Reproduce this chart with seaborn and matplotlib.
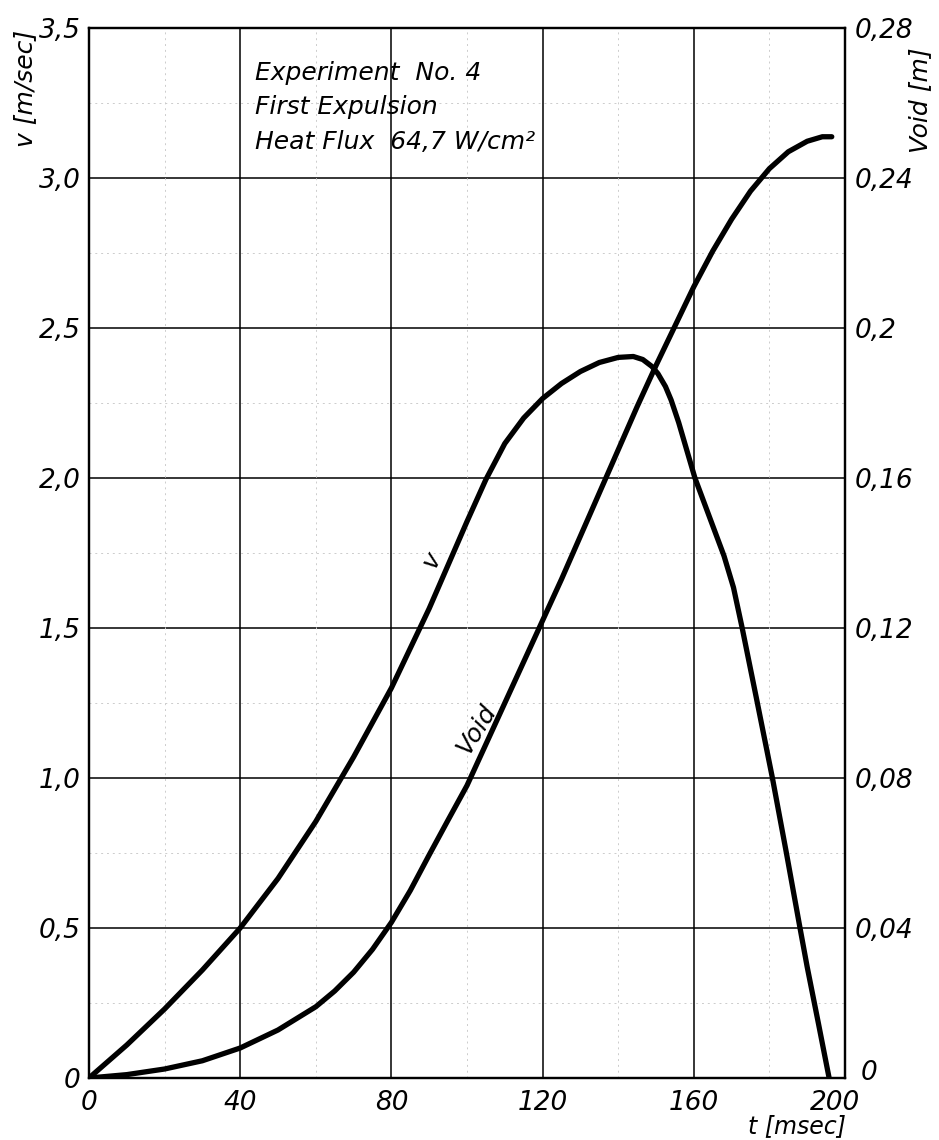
import matplotlib
matplotlib.use("Agg")
import matplotlib.pyplot as plt
import matplotlib.transforms as mtransforms
import seaborn as sns
import pandas as pd

# ---- data ----
t_v = [0, 10, 20, 30, 40, 50, 60, 70, 80, 90, 95, 100, 105, 110, 115, 120, 125, 130,
       135, 140, 144, 146.5, 148.9, 150.5, 152.5, 154, 156, 160.3, 164, 168, 170.5,
       172.8, 176.5, 180.8, 184.5, 188.1, 190, 193, 195.8]
v_vals = [0, 0.11, 0.23, 0.36, 0.5, 0.665, 0.855, 1.07, 1.30, 1.565, 1.71, 1.855, 1.995,
          2.115, 2.2, 2.265, 2.315, 2.355, 2.385, 2.402, 2.405, 2.395, 2.372, 2.348,
          2.305, 2.26, 2.185, 2.0, 1.875, 1.74, 1.635, 1.5, 1.27, 1.0, 0.75, 0.5, 0.37,
          0.18, 0]

t_void = [0, 10, 20, 30, 40, 50, 60, 65, 70, 75, 80, 85, 90, 95, 100, 105, 110, 115,
          120, 125, 130, 135, 140, 145, 150, 155, 160, 165, 170, 175, 180, 185, 190,
          194, 196.5]
void_vals = [0, 0.0009, 0.0024, 0.0046, 0.008, 0.0128, 0.019, 0.0232, 0.0282, 0.0343,
             0.0415, 0.050, 0.0595, 0.0688, 0.078, 0.089, 0.1, 0.111, 0.122, 0.133,
             0.1445, 0.156, 0.1675, 0.179, 0.19, 0.2005, 0.211, 0.2205, 0.229, 0.2365,
             0.2425, 0.247, 0.2498, 0.251, 0.251]

x_ticks = [0, 40, 80, 120, 160, 200]
x_tick_labels = ["0", "40", "80", "120", "160", "200"]
v_ticks = [0, 0.5, 1.0, 1.5, 2.0, 2.5, 3.0, 3.5]
v_tick_labels = ["0", "0,5", "1,0", "1,5", "2,0", "2,5", "3,0", "3,5"]
void_ticks = [0, 0.04, 0.08, 0.12, 0.16, 0.20, 0.24, 0.28]
void_tick_labels = ["0", "0,04", "0,08", "0,12", "0,16", "0,2", "0,24", "0,28"]

info_lines = ["Experiment  No. 4", "First Expulsion", "Heat Flux  64,7 W/cm²"]

# ---- style ----
sns.set_style("white")
plt.rcParams["font.family"] = ["DejaVu Sans"]
plt.rcParams["font.style"] = "italic"
plt.rcParams["text.color"] = "black"
plt.rcParams["xtick.color"] = "black"
plt.rcParams["ytick.color"] = "black"
plt.rcParams["axes.labelcolor"] = "black"

fig = plt.figure(figsize=(9.39, 11.4), dpi=100)
ax = fig.add_axes([89/939, 1-1078/1140, (845-89)/939, (1078-28)/1140])
ax2 = ax.twinx()

df_v = pd.DataFrame({"t": t_v, "v": v_vals})
df_void = pd.DataFrame({"t": t_void, "void": void_vals})

sns.lineplot(data=df_v, x="t", y="v", ax=ax, color="black", lw=3.8,
             sort=False, estimator=None, solid_capstyle="round",
             solid_joinstyle="round", zorder=5)
sns.lineplot(data=df_void, x="t", y="void", ax=ax2, color="black", lw=3.8,
             sort=False, estimator=None, solid_capstyle="round",
             solid_joinstyle="round", zorder=5)

ax.set_xlim(0, 200)
ax.set_ylim(0, 3.5)
ax2.set_ylim(0, 0.28)

# faint minor grid of the graph paper
for xm in [20, 60, 100, 140, 180]:
    ax.axvline(xm, color="#cccccc", lw=0.7, ls=(0, (2, 4)), zorder=1)
for ym in [0.25, 0.75, 1.25, 1.75, 2.25, 2.75, 3.25]:
    ax.axhline(ym, color="#cccccc", lw=0.7, ls=(0, (2, 4)), zorder=1)

ax.set_xticks(x_ticks)
ax.set_xticklabels(x_tick_labels)
ax.set_yticks(v_ticks)
ax.set_yticklabels(v_tick_labels)
ax2.set_yticks(void_ticks)
ax2.set_yticklabels(void_tick_labels)

ax.grid(True, color="black", lw=1.1, zorder=2)
ax2.grid(False)

fs = 19
ax.tick_params(axis="x", length=0, pad=9, labelsize=fs, colors="black")
ax.tick_params(axis="y", length=0, pad=6, labelsize=fs, colors="black")
ax2.tick_params(axis="y", length=0, pad=7, labelsize=fs, colors="black")
for lab in ax.get_xticklabels() + ax.get_yticklabels() + ax2.get_yticklabels():
    lab.set_fontstyle("italic")

# nudge the crowded corner labels apart ("200" left, right-axis "0" up/right)
lab200 = ax.get_xticklabels()[-1]
lab200.set_transform(lab200.get_transform() +
                     mtransforms.ScaledTranslation(-10/100, 0, fig.dpi_scale_trans))
lab0r = ax2.get_yticklabels()[0]
lab0r.set_transform(lab0r.get_transform() +
                    mtransforms.ScaledTranslation(6/100, 8/100, fig.dpi_scale_trans))

ax.set_xlabel("")
ax.set_ylabel("")
ax2.set_ylabel("")

for a in (ax, ax2):
    for s in a.spines.values():
        s.set_color("black")
        s.set_linewidth(1.6)
        s.set_visible(True)

# text block
ys = [3.35, 3.237, 3.12]
for line, yy in zip(info_lines, ys):
    ax.text(44, yy, line, fontsize=18, style="italic", ha="left", va="center", zorder=6)

# curve labels
ax.text(90.7, 1.727, "v", fontsize=18, style="italic", rotation=62,
        ha="center", va="center", zorder=6)
ax.text(102.4, 1.163, "Void", fontsize=18, style="italic", rotation=58,
        ha="center", va="center", zorder=6)

# axis labels
fig.text(25/939, 1-88/1140, "v [m/sec]", fontsize=18, style="italic",
         rotation=90, ha="center", va="center")
fig.text(920/939, 1-100/1140, "Void [m]", fontsize=18, style="italic",
         rotation=90, ha="center", va="center")
fig.text(846/939, 1-1126/1140, "t [msec]", fontsize=17, style="italic",
         ha="right", va="center")

fig.savefig("out.png", dpi=100, facecolor="white")
